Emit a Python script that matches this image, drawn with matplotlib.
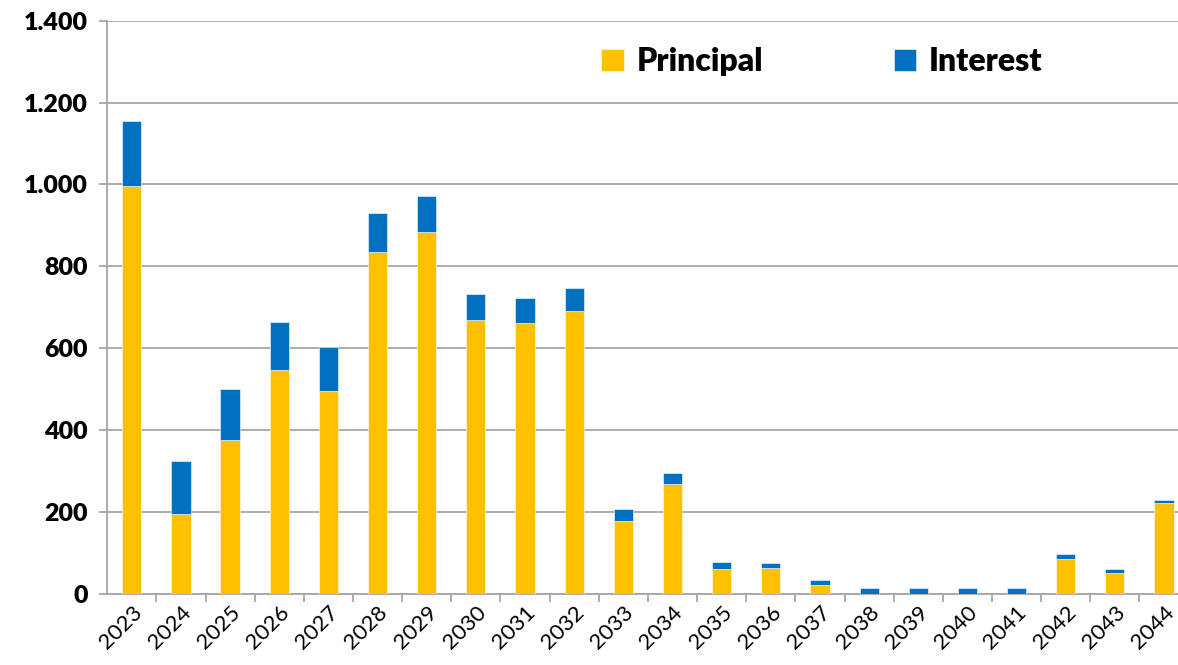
import numpy as np
import matplotlib.pyplot as plt
from matplotlib.ticker import FixedLocator

years = [str(y) for y in range(2023, 2045)]
principal = [995, 195, 376, 547, 496, 836, 883, 669, 662, 691, 178,
             269, 61, 62, 22, 0, 0, 0, 0, 85, 51, 223]
interest = [161, 130, 124, 117, 106, 93, 88, 64, 60, 56, 29,
            26, 16, 14, 13, 14, 14, 14, 14, 13, 9, 7]
yticks = list(range(0, 1401, 200))
ylabels = [f'{v:,}'.replace(',', '.') for v in yticks]

plt.rcParams['font.family'] = ['Lato', 'DejaVu Sans']

fig = plt.figure(figsize=(11.78, 6.65), dpi=100)
# axes run a bit past the right edge, like the cropped original
ax = fig.add_axes([0.091, 0.107, 0.918, 0.862])

x = np.arange(len(years))
w = 0.39
ax.bar(x, principal, w, color='#FFC000', label='Principal', zorder=3,
       edgecolor='white', linewidth=0.4)
ax.bar(x, interest, w, bottom=principal, color='#0070C0', label='Interest',
       zorder=3, edgecolor='white', linewidth=0.4)

ax.set_xlim(-0.5, len(years) - 0.5)
ax.set_ylim(0, 1400)
ax.set_yticks(yticks)
ax.set_yticklabels(ylabels, fontweight='heavy', fontsize=18)
ax.grid(axis='y', color='#A6A6A6', linewidth=1.3, zorder=0)

ax.set_xticks(x)
ax.set_xticklabels(years, rotation=45, ha='right', rotation_mode='anchor', fontsize=16)
ax.xaxis.set_minor_locator(FixedLocator(x[:-1] + 0.5))
ax.tick_params(axis='x', which='major', length=0, pad=6)
ax.tick_params(axis='x', which='minor', length=6, color='#A6A6A6', width=1.3)
ax.tick_params(axis='y', length=6, color='#A6A6A6', width=1.3, pad=8)

for s in ['top', 'right']:
    ax.spines[s].set_visible(False)
for s in ['left', 'bottom']:
    ax.spines[s].set_color('#A6A6A6')
    ax.spines[s].set_linewidth(1.3)

ax.legend(loc='center', bbox_to_anchor=(0.661, 0.928), ncol=2, frameon=False,
          handlelength=0.7, handleheight=0.7, handletextpad=0.4,
          columnspacing=4.1, prop={'weight': 'heavy', 'size': 23})

fig.savefig('out.png', dpi=100)
